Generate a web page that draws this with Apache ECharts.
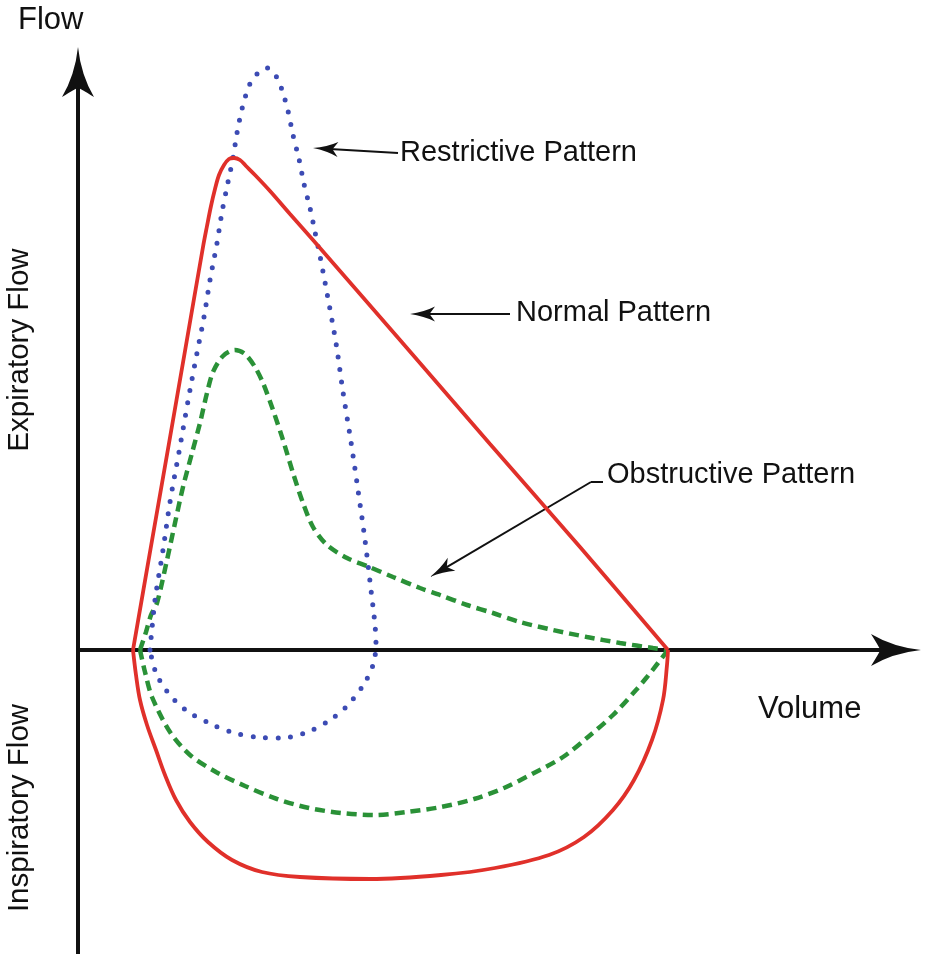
<!DOCTYPE html>
<html>
<head>
<meta charset="utf-8">
<script src="https://cdn.jsdelivr.net/npm/echarts@6/dist/echarts.min.js"></script>
<style>
html,body{margin:0;padding:0;background:#fff;}
#chart{width:925px;height:954px;}
</style>
</head>
<body>
<div id="chart"></div>
<script>
// Flow-volume loops, arbitrary units: volume (x) and flow (y, + expiratory, - inspiratory)
var normalExpiratory = [[55,0],[72,98],[90,201],[107,299],[125,403],[129,424],[133,444],[137,461],[141,475],[146,485],[151,491],[156,492],[162,490],[168,484],[177,475],[192,459],[212,436],[235,410],[322,310],[412,206],[502,103],[590,0]];
var normalInspiratory = [[590,0],[589,-15],[585,-50],[574,-90],[556,-130],[535,-160],[506,-187],[471,-205],[417,-218],[363,-225],[292,-229],[222,-227],[184,-222],[154,-210],[130,-192],[112,-172],[98,-150],[87,-125],[78,-100],[69,-75],[62,-50],[58,-25],[55,0]];
var restrictiveLoop = [[72,0],[77,50],[85,100],[92,148],[101,198],[112,260],[119,297],[126,333],[132,370],[139,407],[144,438],[150,468],[155,492],[159,517],[164,541],[171,564],[179,576],[189,582],[198,574],[204,560],[210,539],[215,515],[221,491],[226,466],[232,442],[237,418],[242,394],[249,357],[258,307],[265,258],[273,208],[280,160],[287,110],[293,60],[297,25],[298,5],[295,-15],[286,-34],[269,-56],[249,-72],[227,-83],[203,-88],[178,-87],[153,-82],[131,-73],[109,-61],[91,-44],[78,-23],[72,0]];
var obstructiveExpiratory = [[62,0],[68,18],[73,35],[79,47],[89,90],[97,127],[105,163],[114,197],[122,227],[129,257],[135,278],[145,294],[157,300],[167,296],[177,283],[185,267],[195,240],[205,210],[215,177],[225,147],[235,123],[249,105],[269,92],[289,84],[315,73],[342,62],[362,55],[389,45],[415,37],[442,28],[475,20],[509,13],[542,7],[575,2],[590,0]];
var obstructiveInspiratory = [[590,0],[580,-13],[569,-27],[558,-40],[535,-65],[510,-87],[485,-107],[456,-123],[426,-138],[396,-149],[363,-157],[329,-162],[297,-165],[263,-163],[231,-158],[199,-149],[167,-136],[138,-122],[112,-105],[92,-82],[74,-47],[67,-22],[62,0]];

// annotation pointers: [from, arrow tip] in data units
var pointerRestrictive = [[320,497],[235,502]];
var pointerNormal = [[432,336],[332,336]];
var pointerObstructiveTick = [[525,168],[513,168]];
var pointerObstructive = [[513,168],[352,73]];

var xRange = [0, 818];
var yRange = [-304, 578];

var FONT = '"Liberation Sans", Arial, Helvetica, sans-serif';
var TXT = '#111111';
var AXIS_ARROW = 'path://M16 0 Q19 28 32 50 Q16 40 16 41 Q16 40 0 50 Q13 28 16 0 Z';
var HEAD = 'path://M7.5 0 Q9.5 14 15 25 L7.5 19.5 L0 25 Q5.5 14 7.5 0 Z';
var HEAD_LEN = 25;

function headLine(p) {
  var a = p[0], b = p[1];
  var dx = b[0] - a[0], dy = b[1] - a[1];
  var L = Math.sqrt(dx * dx + dy * dy);
  var c = [b[0] - dx / L * HEAD_LEN / 2, b[1] - dy / L * HEAD_LEN / 2];
  return [{coord: a, symbol: 'none'}, {coord: c, symbol: HEAD, symbolSize: [15, 25]}];
}
function plainLine(p) {
  return [{coord: p[0], symbol: 'none'}, {coord: p[1], symbol: 'none'}];
}

function txt(text, x, y, size, rot) {
  return {
    type: 'text', x: x, y: y, rotation: rot || 0, z: 50,
    style: {
      text: text, fontSize: size, fontFamily: FONT, fill: TXT,
      align: rot ? 'center' : 'left', textAlign: rot ? 'center' : 'left',
      verticalAlign: 'middle', textVerticalAlign: 'middle'
    }
  };
}

var chart = echarts.init(document.getElementById('chart'), null, {renderer: 'canvas'});
var axisCommon = {
  type: 'value',
  axisTick: {show: false},
  axisLabel: {show: false},
  splitLine: {show: false},
  axisLine: {
    show: true, onZero: true,
    symbol: ['none', AXIS_ARROW], symbolSize: [32, 50],
    lineStyle: {color: '#111111', width: 4}
  }
};
var lineCommon = {type: 'line', showSymbol: false, symbol: 'none', clip: false, silent: true, animation: false};

chart.setOption({
  animation: false,
  backgroundColor: '#ffffff',
  grid: {left: 78, right: 29, top: 72, bottom: 0, containLabel: false},
  xAxis: Object.assign({}, axisCommon, {min: xRange[0], max: xRange[1]}),
  yAxis: Object.assign({}, axisCommon, {min: yRange[0], max: yRange[1]}),
  series: [
    Object.assign({}, lineCommon, {
      name: 'Obstructive Pattern (expiratory)', data: obstructiveExpiratory, smooth: 0.3, z: 3,
      lineStyle: {color: '#2a9137', width: 4.5, type: [10, 6]}
    }),
    Object.assign({}, lineCommon, {
      name: 'Obstructive Pattern (inspiratory)', data: obstructiveInspiratory, smooth: 0.3, z: 3,
      lineStyle: {color: '#2a9137', width: 4.5, type: [10, 6]}
    }),
    Object.assign({}, lineCommon, {
      name: 'Restrictive Pattern', data: restrictiveLoop, smooth: 0.3, z: 4,
      lineStyle: {color: '#3c4bb4', width: 5, type: [0, 12.5], cap: 'round'}
    }),
    Object.assign({}, lineCommon, {
      name: 'Normal Pattern (expiratory)', data: normalExpiratory, smooth: 0.35, z: 5,
      lineStyle: {color: '#e0302a', width: 3.8}
    }),
    Object.assign({}, lineCommon, {
      name: 'Normal Pattern (inspiratory)', data: normalInspiratory, smooth: 0.35, z: 5,
      lineStyle: {color: '#e0302a', width: 3.8},
      markLine: {
        silent: true, animation: false,
        symbol: ['none', 'none'],
        label: {show: false},
        lineStyle: {color: '#111111', width: 2, type: 'solid'},
        emphasis: {disabled: true},
        data: [
          headLine(pointerRestrictive),
          headLine(pointerNormal),
          plainLine(pointerObstructiveTick),
          headLine(pointerObstructive)
        ]
      }
    })
  ],
  graphic: [
    txt('Flow', 18, 20, 31),
    txt('Volume', 758, 709, 31),
    txt('Restrictive Pattern', 400, 153, 29),
    txt('Normal Pattern', 516, 313, 29),
    txt('Obstructive Pattern', 607, 475, 29),
    txt('Expiratory Flow', 20, 350, 29.5, Math.PI / 2),
    txt('Inspiratory Flow', 20, 808, 29.5, Math.PI / 2)
  ]
});
</script>
</body>
</html>
